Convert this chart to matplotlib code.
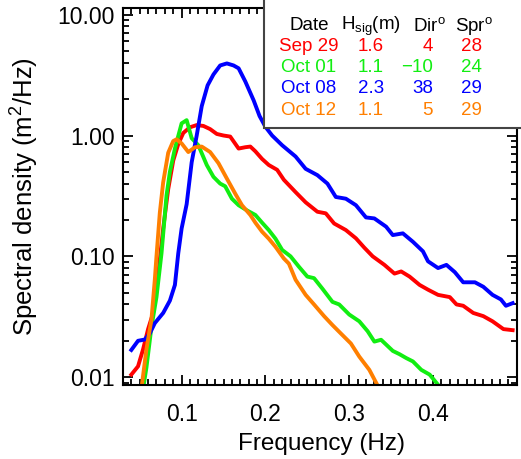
import matplotlib
matplotlib.use("Agg")
import matplotlib.pyplot as plt
from matplotlib.patches import Rectangle

plt.rcParams['font.family'] = ['Liberation Sans', 'DejaVu Sans']
plt.rcParams['mathtext.fontset'] = 'custom'
plt.rcParams['mathtext.rm'] = 'Liberation Sans'
plt.rcParams['mathtext.it'] = 'Liberation Sans:italic'

# Sep 29
f_sep29 = [0.040, 0.048, 0.054, 0.060, 0.066, 0.072, 0.078, 0.084, 0.090, 0.096,
           0.102, 0.110, 0.118, 0.126, 0.134, 0.142, 0.150, 0.158, 0.168, 0.176,
           0.182, 0.188, 0.196, 0.204, 0.214, 0.222, 0.236, 0.248, 0.262, 0.272,
           0.282, 0.296, 0.308, 0.318, 0.328, 0.342, 0.354, 0.362, 0.372, 0.384,
           0.394, 0.406, 0.420, 0.428, 0.436, 0.448, 0.460, 0.471, 0.484, 0.495]
s_sep29 = [0.0105, 0.0123, 0.017, 0.025, 0.034, 0.07, 0.17, 0.36, 0.62, 0.85,
           1.05, 1.17, 1.22, 1.20, 1.13, 1.03, 1.00, 0.98, 0.78, 0.80,
           0.81, 0.74, 0.64, 0.57, 0.52, 0.43, 0.34, 0.28, 0.234, 0.227,
           0.187, 0.165, 0.141, 0.118, 0.100, 0.085, 0.072, 0.075, 0.068, 0.058,
           0.053, 0.048, 0.046, 0.040, 0.039, 0.034, 0.032, 0.029, 0.025, 0.0245]

# Oct 01
f_oct01 = [0.054, 0.058, 0.064, 0.070, 0.076, 0.082, 0.086, 0.092, 0.100, 0.106,
           0.112, 0.120, 0.130, 0.138, 0.146, 0.152, 0.160, 0.168, 0.178, 0.188,
           0.196, 0.204, 0.212, 0.220, 0.230, 0.240, 0.250, 0.258, 0.268, 0.280,
           0.288, 0.300, 0.312, 0.322, 0.330, 0.338, 0.352, 0.360, 0.368, 0.376,
           0.386, 0.396, 0.410]
s_oct01 = [0.0080, 0.012, 0.026, 0.046, 0.106, 0.32, 0.50, 0.78, 1.26, 1.34,
           0.95, 0.83, 0.57, 0.455, 0.40, 0.38, 0.30, 0.265, 0.24, 0.22,
           0.19, 0.165, 0.14, 0.113, 0.100, 0.082, 0.068, 0.066, 0.054, 0.042,
           0.040, 0.033, 0.029, 0.024, 0.0197, 0.0204, 0.0165, 0.0155, 0.0144, 0.0135,
           0.0115, 0.0105, 0.0080]

# Oct 08
f_oct08 = [0.040, 0.048, 0.056, 0.062, 0.068, 0.078, 0.086, 0.092, 0.096, 0.100,
           0.106, 0.112, 0.118, 0.124, 0.131, 0.138, 0.146, 0.154, 0.162, 0.168,
           0.176, 0.186, 0.193, 0.200, 0.208, 0.220, 0.236, 0.248, 0.262, 0.274,
           0.284, 0.296, 0.308, 0.320, 0.330, 0.344, 0.352, 0.364, 0.376, 0.388,
           0.394, 0.406, 0.416, 0.426, 0.436, 0.450, 0.460, 0.471, 0.481, 0.487,
           0.495]
s_oct08 = [0.0168, 0.020, 0.0205, 0.023, 0.028, 0.034, 0.043, 0.058, 0.106, 0.17,
           0.27, 0.60, 1.00, 1.75, 2.6, 3.2, 3.8, 3.95, 3.8, 3.6,
           2.8, 1.95, 1.45, 1.18, 1.00, 0.83, 0.67, 0.53, 0.47, 0.40,
           0.31, 0.30, 0.265, 0.21, 0.206, 0.176, 0.15, 0.155, 0.132, 0.11,
           0.091, 0.080, 0.085, 0.074, 0.061, 0.061, 0.056, 0.048, 0.044, 0.039,
           0.041]

# Oct 12
f_oct12 = [0.052, 0.058, 0.064, 0.068, 0.070, 0.074, 0.078, 0.084, 0.090, 0.094,
           0.100, 0.108, 0.116, 0.124, 0.134, 0.144, 0.154, 0.164, 0.172, 0.182,
           0.188, 0.196, 0.204, 0.212, 0.222, 0.228, 0.236, 0.248, 0.258, 0.270,
           0.280, 0.290, 0.302, 0.312, 0.324, 0.336]
s_oct12 = [0.0080, 0.017, 0.030, 0.064, 0.10, 0.23, 0.41, 0.72, 0.90, 0.93,
           0.86, 0.73, 0.80, 0.81, 0.73, 0.59, 0.44, 0.33, 0.265, 0.22,
           0.19, 0.16, 0.14, 0.12, 0.096, 0.087, 0.064, 0.048, 0.040, 0.032,
           0.027, 0.023, 0.019, 0.0148, 0.0115, 0.0080]

dates = ["Sep 29", "Oct 01", "Oct 08", "Oct 12"]
hsig = ["1.6", "1.1", "2.3", "1.1"]
dirs = ["4", "\u221210", "38", "5"]
sprs = ["28", "24", "29", "29"]
colors = ["#ff0000", "#11ee11", "#0000ff", "#ff7f00"]

fig = plt.figure(figsize=(5.21, 4.59), dpi=100)
ax = fig.add_axes([0.236, 0.161, 0.756, 0.822])

series = [(f_sep29, s_sep29), (f_oct01, s_oct01), (f_oct08, s_oct08), (f_oct12, s_oct12)]
for (f, s), c in zip(series, colors):
    ax.plot(f, s, color=c, lw=2.8)

ax.set_yscale('log')
ax.set_xlim(0.03, 0.5)
ax.set_ylim(0.0086, 11.4)
ax.set_xticks([0.1, 0.2, 0.3, 0.4])
ax.set_xticklabels(["0.1", "0.2", "0.3", "0.4"])
ax.set_xticks([i / 100 for i in range(3, 51)], minor=True)
ax.set_yticks([0.01, 0.1, 1, 10])
ax.set_yticklabels(["0.01", "0.10", "1.00", "10.00"])
ax.tick_params(which='both', direction='in', top=True, right=True, width=1.3)
ax.tick_params(which='major', length=7)
ax.tick_params(which='minor', length=4)
ax.tick_params(axis='x', which='major', labelsize=16.5, pad=13)
ax.tick_params(axis='y', which='major', labelsize=16.5, pad=6)
for sp in ax.spines.values():
    sp.set_linewidth(1.5)

ax.set_xlabel("Frequency (Hz)", fontsize=17.5)
ax.xaxis.set_label_coords(0.504, -0.127)
ax.xaxis.label.set_va('top')
ax.set_ylabel("Spectral density (m$^2$/Hz)", fontsize=18.5)
ax.yaxis.set_label_coords(-0.208, 0.5)

# table box
ax.add_patch(Rectangle((0.358, 0.682), 0.7, 0.4, transform=ax.transAxes,
                       facecolor='white', edgecolor='#444444', lw=1.5, zorder=5,
                       clip_on=False))
fs = 13.5
ytop = 0.952
rows_y = [0.897, 0.841, 0.785, 0.729]
ax.text(0.472, ytop, "Date", transform=ax.transAxes, ha='center', va='center', fontsize=fs, zorder=6)
ax.text(0.629, ytop, "H$_\\mathrm{sig}$(m)", transform=ax.transAxes, ha='center', va='center', fontsize=fs, zorder=6)
ax.text(0.777, ytop, "Dir$^\\mathrm{o}$", transform=ax.transAxes, ha='center', va='center', fontsize=fs, zorder=6)
ax.text(0.891, ytop, "Spr$^\\mathrm{o}$", transform=ax.transAxes, ha='center', va='center', fontsize=fs, zorder=6)
for i in range(4):
    y = rows_y[i]
    kw = dict(transform=ax.transAxes, va='center', fontsize=fs, color=colors[i], zorder=6)
    ax.text(0.472, y, dates[i], ha='center', **kw)
    ax.text(0.629, y, hsig[i], ha='center', **kw)
    ax.text(0.787, y, dirs[i], ha='right', **kw)
    ax.text(0.886, y, sprs[i], ha='center', **kw)

fig.savefig("out.png", dpi=100)
